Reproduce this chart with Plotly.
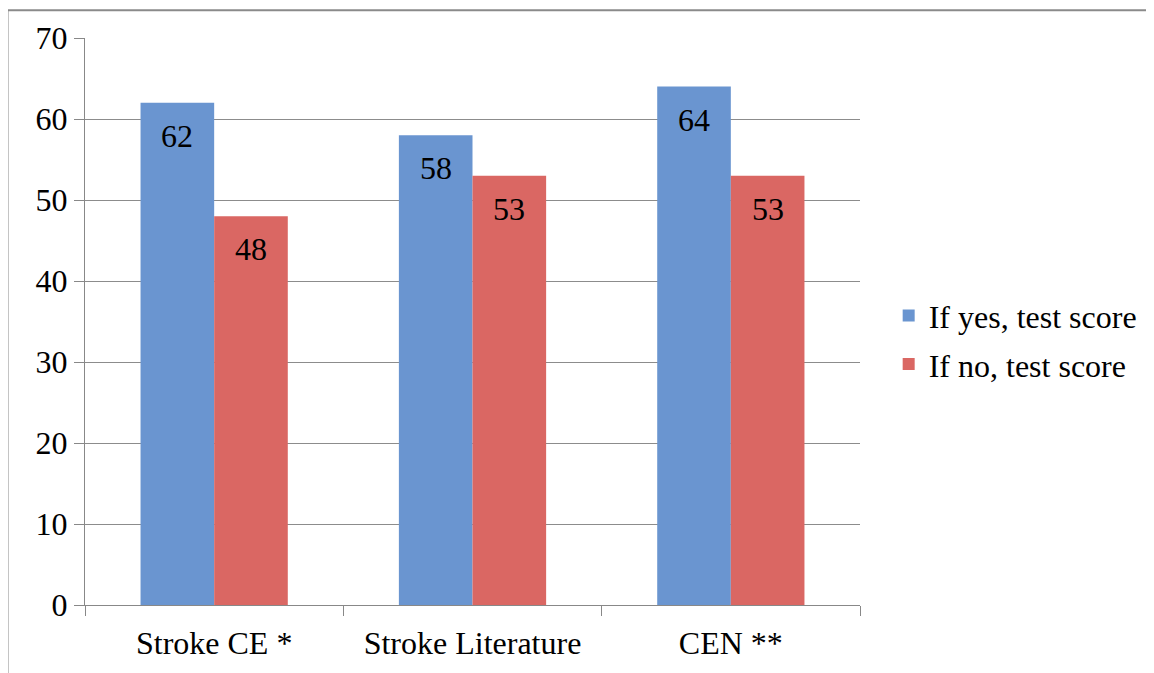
import plotly.graph_objects as go

categories = ["Stroke CE *", "Stroke Literature", "CEN **"]
yes_scores = [62, 58, 64]
no_scores = [48, 53, 53]
series_names = ["If yes, test score", "If no, test score"]
y_ticks = [0, 10, 20, 30, 40, 50, 60, 70]

FONT = "Liberation Serif, Times New Roman, serif"
FS = 32
W, H = 1146, 665
ML, MR, MT, MB = 77, 294, 29, 67
BARGAP = 0.43

fig = go.Figure()
series = [(yes_scores, series_names[0], "#6A95D0"), (no_scores, series_names[1], "#DA6763")]
for k, (vals, name, col) in enumerate(series):
    fig.add_trace(go.Bar(
        x=categories, y=vals, name=name,
        marker=dict(color=col, line=dict(width=0)),
        legendgroup=f"g{k}",
    ))

# data labels inside the top of each bar
plot_w = W - ML - MR
bar_px = plot_w / len(categories) * (1 - BARGAP) / len(series)
annotations = []
for k, (vals, name, col) in enumerate(series):
    for cat, v in zip(categories, vals):
        annotations.append(dict(
            x=cat, y=v, xref="x", yref="y", text=str(v), showarrow=False,
            xshift=(k - 0.5) * bar_px, yshift=-33, yanchor="middle",
            font=dict(family=FONT, size=FS, color="black"),
        ))

fig.update_layout(
    width=W, height=H,
    margin=dict(l=ML, r=MR, t=MT, b=MB),
    paper_bgcolor="white", plot_bgcolor="white",
    font=dict(family=FONT, size=FS, color="black"),
    barmode="group", bargap=BARGAP, bargroupgap=0,
    showlegend=True,
    legend=dict(x=1.037, y=0.467, xanchor="left", yanchor="middle",
                font=dict(family=FONT, size=FS, color="black"),
                traceorder="grouped", tracegroupgap=4,
                itemwidth=30),
    annotations=annotations,
    shapes=[dict(type="rect", xref="paper", yref="paper",
                 x0=-0.1, x1=1.5, y0=-0.3, y1=1.049,
                 line=dict(color="#8a8a8a", width=2), fillcolor="rgba(0,0,0,0)",
                 layer="below")],
)
fig.update_xaxes(
    showline=True, linecolor="#888888", linewidth=1,
    ticks="outside", tickson="boundaries", ticklen=10, tickcolor="#888888",
    showgrid=False, ticklabelstandoff=10,
)
fig.update_yaxes(
    range=[0, 70], tickvals=y_ticks,
    showline=True, linecolor="#888888", linewidth=1,
    ticks="outside", ticklen=10, tickcolor="#888888",
    showgrid=True, gridcolor="#8c8c8c", gridwidth=1,
    zeroline=False,
)

fig.write_html("out.html")
